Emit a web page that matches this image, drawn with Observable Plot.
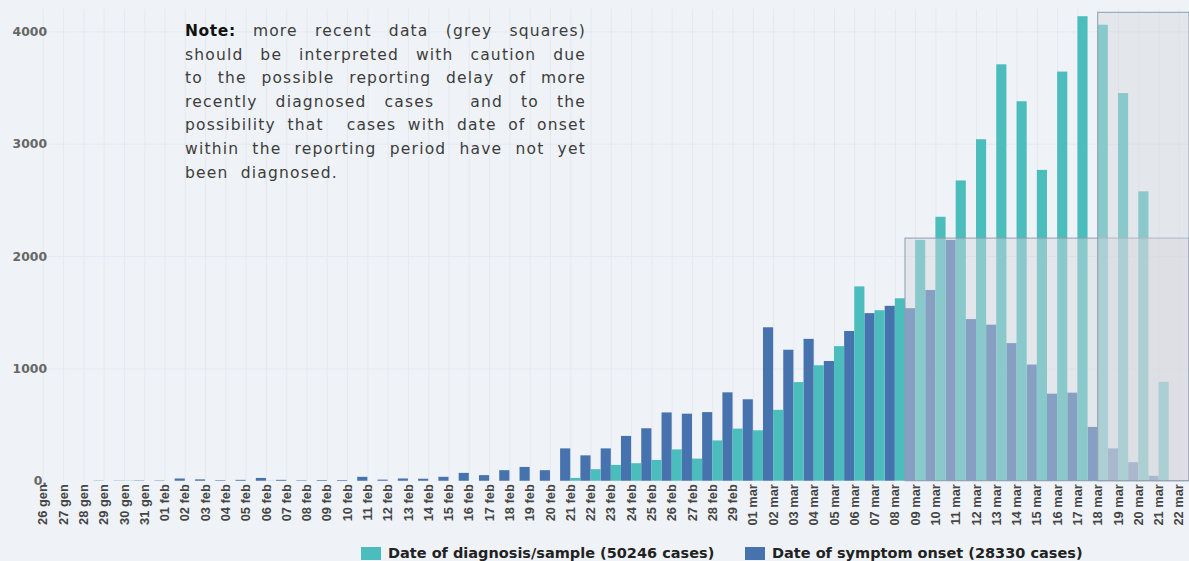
<!DOCTYPE html>
<html>
<head>
<meta charset="utf-8">
<script src="https://cdn.jsdelivr.net/npm/d3@7"></script>
<script src="https://cdn.jsdelivr.net/npm/@observablehq/plot@0.6"></script>
<style>
  html, body { margin: 0; padding: 0; background: #eff3f8; overflow: hidden; }
  #wrap { position: relative; width: 1189px; height: 561px; overflow: hidden; background: #eff3f8; }
  #chart { position: absolute; left: 0; top: 0; }
  #note { position: absolute; left: 185px; top: 20px; width: 401px; font-family: "DejaVu Sans", sans-serif; font-size: 15.5px; line-height: 23.6px; color: #3c3c3c; letter-spacing: 1.2px; }
  #note .ln { text-align: justify; text-align-last: justify; }
  #note .last { text-align: left; text-align-last: left; }
  #note b { color: #111; letter-spacing: 0.6px; }
  .leg { position: absolute; top: 546px; height: 14px; display: flex; align-items: center; font-family: "DejaVu Sans", sans-serif; font-weight: bold; font-size: 14.5px; color: #222; white-space: nowrap; }
  .sw { width: 20px; height: 13px; margin-right: 7px; }
</style>
</head>
<body>
<div id="wrap">
  <div id="chart"></div>
  <div id="note">
    <div class="ln"><b>Note:</b> more recent data (grey squares)</div>
    <div class="ln">should be interpreted with caution due</div>
    <div class="ln">to the possible reporting delay of more</div>
    <div class="ln">recently diagnosed cases&nbsp; and to the</div>
    <div class="ln">possibility that&nbsp; cases with date of onset</div>
    <div class="ln">within the reporting period have not yet</div>
    <div class="ln last">been&nbsp; diagnosed.</div>
  </div>
  <div class="leg" style="left:361px"><div class="sw" style="background:#4bbdbd"></div><span id="leg1"></span></div>
  <div class="leg" style="left:745px"><div class="sw" style="background:#4672ae"></div><span id="leg2"></span></div>
</div>
<script>
// ---- data ----
const dates = [
  "26 gen","27 gen","28 gen","29 gen","30 gen","31 gen",
  "01 feb","02 feb","03 feb","04 feb","05 feb","06 feb","07 feb","08 feb","09 feb","10 feb",
  "11 feb","12 feb","13 feb","14 feb","15 feb","16 feb","17 feb","18 feb","19 feb","20 feb",
  "21 feb","22 feb","23 feb","24 feb","25 feb","26 feb","27 feb","28 feb","29 feb",
  "01 mar","02 mar","03 mar","04 mar","05 mar","06 mar","07 mar","08 mar","09 mar","10 mar",
  "11 mar","12 mar","13 mar","14 mar","15 mar","16 mar","17 mar","18 mar","19 mar","20 mar",
  "21 mar","22 mar"
];
// Date of symptom onset
const onset = [
  0, 0, 0, 2, 2, 3,
  3, 20, 12, 5, 8, 25, 8, 4, 6, 6,
  35, 10, 20, 18, 35, 70, 50, 94, 123, 94,
  288, 226, 288, 399, 467, 608, 597, 611, 787,
  725, 1366, 1166, 1263, 1066, 1333, 1492, 1557, 1536, 1698,
  2144, 1439, 1389, 1225, 1034, 775, 784, 479, 288, 165,
  44, 0
];
// Date of diagnosis/sample
const diagnosis = [
  0, 0, 0, 0, 2, 0,
  0, 0, 0, 0, 0, 1, 0, 0, 0, 0,
  0, 0, 0, 0, 0, 0, 0, 0, 0, 0,
  25, 103, 141, 156, 185, 279, 197, 359, 464,
  449, 631, 878, 1028, 1198, 1730, 1518, 1624, 2144, 2350,
  2673, 3040, 3707, 3378, 2767, 3642, 4135, 4059, 3451, 2576,
  881, 0
];
const seriesNames = ["Date of diagnosis/sample (50246 cases)", "Date of symptom onset (28330 cases)"];
const yTicks = [0, 1000, 2000, 3000, 4000];
const yTickLabels = ["0.", "1000", "2000", "3000", "4000"];
// grey "recent data" boxes
const greySeries = ["onset", "diagnosis"];
const greyStart = ["09 mar", "18 mar"];
const greyTop = [2160, 4170];

// ---- build ----
document.getElementById("leg1").textContent = seriesNames[0];
document.getElementById("leg2").textContent = seriesNames[1];

const rows = dates.map((d, i) => ({i, date: d, onset: onset[i], diagnosis: diagnosis[i]}));
const idx = dates.map((d, i) => i);
const greys = greySeries.map((s, k) => ({series: s, start: dates.indexOf(greyStart[k]), top: greyTop[k]}));
const xEnd = dates.length - 0.5;

const chart = Plot.plot({
  width: 1202,
  height: 540,
  marginLeft: 33,
  marginRight: 0,
  marginTop: 9,
  marginBottom: 54,
  style: {background: "transparent", overflow: "visible"},
  x: {type: "linear", domain: [-0.5, xEnd], axis: null},
  y: {domain: [0, 4200], axis: null},
  marks: [
    Plot.ruleX(idx, {x: d => d, stroke: "#e4e9f1", strokeWidth: 1}),
    Plot.ruleY(yTicks.slice(1), {y: d => d, stroke: "#e4e9f1", strokeWidth: 1}),
    Plot.rect(rows, {x1: d => d.i - 0.5, x2: d => d.i, y1: 0, y2: "onset", fill: "#4672ae"}),
    Plot.rect(rows, {x1: d => d.i, x2: d => d.i + 0.5, y1: 0, y2: "diagnosis", fill: "#4bbdbd"}),
    Plot.rect(greys, {
      x1: d => d.series === "onset" ? d.start - 0.5 : d.start,
      x2: xEnd, y1: 0, y2: "top",
      fill: "#d5d6db", fillOpacity: 0.45, stroke: "#8d9cb0", strokeWidth: 1
    }),
    Plot.axisX(idx, {
      tickFormat: i => dates[i], tickRotate: -90, tickSize: 0, tickPadding: 3,
      fontSize: 13, fontWeight: "bold", fontFamily: "'Liberation Sans', Arial, sans-serif",
      fill: "#454545", ariaLabel: "x-axis-dates"
    }),
    Plot.axisY(yTicks, {
      tickFormat: d => yTickLabels[yTicks.indexOf(d)], tickSize: 0, tickPadding: 0, dx: 14,
      fontSize: 12.5, fontWeight: "bold", fontFamily: "'DejaVu Sans', sans-serif", fill: "#666"
    })
  ]
});
// condense the rotated date labels (narrow typeface look)
chart.querySelectorAll('g[aria-label="x-axis-dates"] text').forEach(t => {
  const tr = t.getAttribute("transform") || "";
  t.setAttribute("transform", tr + " scale(0.8,1)");
});
document.getElementById("chart").appendChild(chart);
</script>
</body>
</html>
